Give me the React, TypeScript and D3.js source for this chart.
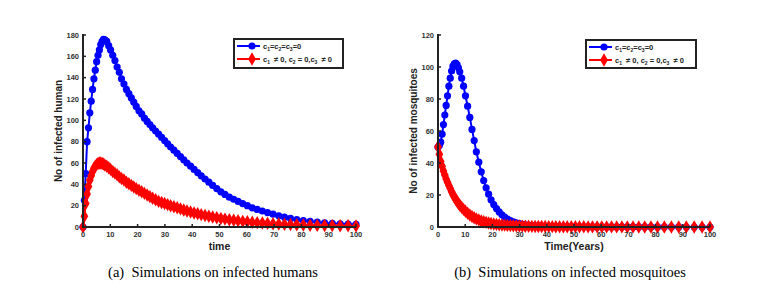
import * as d3 from "d3";

// shared time grid (solver steps)
const TIME = [0, 0.5, 1, 1.5, 2, 2.5, 3, 3.5, 4, 4.5, 5, 5.5, 6, 6.5, 7, 7.5, 8, 8.7, 9.4, 10.1,
  10.9, 11.7, 12.5, 13.3, 14.1, 15, 15.9, 16.8, 17.7, 18.6,
  19.5, 20.5, 21.5, 22.5, 23.5, 24.5, 25.5, 26.6, 27.7, 28.8,
  29.9, 31, 32.1, 33.3, 34.5, 35.7, 36.9, 38.1, 39.4, 40.7,
  42, 43.3, 44.7, 46.1, 47.5, 49, 50.5, 52, 53.6, 55.2,
  56.8, 58.5, 60.2, 62, 63.8, 65.7, 67.6, 69.6, 71.7, 73.8,
  76, 78.3, 80.7, 83.2, 85.8, 88.5, 91.3, 94.2, 97.1, 100];

const humanBase = [0, 25, 50, 80, 93, 107, 118, 129, 139, 147, 155, 161, 166, 171, 174, 176, 175.5, 174, 170, 166,
  161, 156, 150, 145, 139, 134, 129, 125, 121, 117,
  113, 109, 106, 102, 99, 96, 93, 90, 87, 84,
  81, 78, 75, 72, 69, 66, 63, 60, 57, 54,
  51, 48, 45, 42, 39, 36, 33, 30.5, 28, 26,
  24, 22, 20, 18, 16.5, 15, 13.5, 12, 10.5, 9.2,
  8, 7, 6, 5.2, 4.5, 3.9, 3.4, 3, 2.7, 2.4];

const humanControl = [0, 10, 22, 31, 38, 44, 48, 52, 55, 57, 58.5, 59.5, 60, 60, 59.5, 59, 58, 57, 55.5, 54,
  52, 50.5, 49, 47, 45.5, 44, 42, 40.5, 39, 37.5,
  36, 34.5, 33, 31.5, 30, 28.5, 27, 25.5, 24, 23,
  22, 21, 20, 19, 18, 17, 16, 15, 14, 13.2,
  12.4, 11.6, 10.8, 10, 9.3, 8.6, 8, 7.4, 6.8, 6.3,
  5.8, 5.3, 4.9, 4.5, 4.1, 3.7, 3.4, 3.1, 2.8, 2.5,
  2.3, 2.1, 1.9, 1.7, 1.5, 1.4, 1.3, 1.2, 1.1, 1];

const mosqBase = [50, 51, 53, 58, 64, 70, 76, 82, 88, 93, 97.5, 100.5, 102, 102.5, 101.5, 99.5, 97, 93, 88, 82,
  75.5, 68.5, 61, 54, 47, 40.5, 34.5, 29, 24.5, 20.5,
  17, 14, 11.5, 9.4, 7.6, 6.2, 5, 4, 3.2, 2.6,
  2.1, 1.7, 1.4, 1.1, 0.9, 0.7, 0.55, 0.45, 0.35, 0.3,
  0.25, 0.2, 0.17, 0.15, 0.13, 0.11, 0.1, 0.09, 0.08, 0.07,
  0.06, 0.06, 0.05, 0.05, 0.04, 0.04, 0.04, 0.03, 0.03, 0.03,
  0.03, 0.02, 0.02, 0.02, 0.02, 0.02, 0.01, 0.01, 0.01, 0.01];

const mosqControl = [50, 45.5, 41, 38, 35, 32.5, 30, 28, 26, 24, 22, 20.3, 18.7, 17.3, 16, 14.8, 13.6, 12.3, 11, 9.8,
  8.6, 7.5, 6.6, 5.8, 5.1, 4.4, 3.8, 3.3, 2.9, 2.5,
  2.2, 1.9, 1.65, 1.45, 1.3, 1.15, 1, 0.9, 0.8, 0.7,
  0.6, 0.55, 0.5, 0.45, 0.4, 0.35, 0.32, 0.3, 0.27, 0.25,
  0.23, 0.21, 0.19, 0.17, 0.15, 0.14, 0.13, 0.12, 0.11, 0.1,
  0.09, 0.08, 0.08, 0.07, 0.07, 0.06, 0.06, 0.05, 0.05, 0.05,
  0.04, 0.04, 0.04, 0.03, 0.03, 0.03, 0.03, 0.02, 0.02, 0.02];

const xTicks = [0, 10, 20, 30, 40, 50, 60, 70, 80, 90, 100];
const humanYTicks = [0, 20, 40, 60, 80, 100, 120, 140, 160, 180];
const mosqYTicks = [0, 20, 40, 60, 80, 100, 120];

const BLUE = "#0000ff";
const RED = "#ff0000";
const AXIS = "#222";
const FONT = "Liberation Sans, Arial, sans-serif";

const diamond = d3.symbol().type(d3.symbolDiamond).size(52)()!;

type PanelProps = {
  x0: number; x1: number; yTop: number; yBottom: number;
  yMax: number; yTicks: number[];
  base: number[]; control: number[];
  xTitle: string; yTitle: string;
  legend: { x: number; y: number; w: number; h: number };
  caption: string; captionX: number;
};

function Legend({ x, y, w, h }: PanelProps["legend"]) {
  const r1 = y + 7, r2 = y + 20;
  const lx = x + 3;
  return (
    <g>
      <rect x={x} y={y} width={w} height={h} fill="#fff" stroke={AXIS} strokeWidth={2} />
      <line x1={lx} x2={lx + 23} y1={r1} y2={r1} stroke={BLUE} strokeWidth={2} />
      <circle cx={lx + 15} cy={r1} r={3.6} fill={BLUE} />
      <line x1={lx} x2={lx + 23} y1={r2} y2={r2} stroke={RED} strokeWidth={2} />
      <path d={diamond} transform={`translate(${lx + 15},${r2})`} fill={RED} />
      <text x={lx + 26} y={r1 + 2.5} fontSize={7.5} fontWeight="bold" fill={AXIS} fontFamily={FONT}>
        c<tspan fontSize={5} dy={2}>1</tspan><tspan dy={-2}>=c</tspan><tspan fontSize={5} dy={2}>2</tspan>
        <tspan dy={-2}>=c</tspan><tspan fontSize={5} dy={2}>3</tspan><tspan dy={-2}>=0</tspan>
      </text>
      <text x={lx + 26} y={r2 + 2.5} fontSize={7.5} fontWeight="bold" fill={AXIS} fontFamily={FONT} xmlSpace="preserve">
        c<tspan fontSize={5} dy={2}>1</tspan><tspan dy={-2}>  ≠ 0, c</tspan><tspan fontSize={5} dy={2}>2</tspan>
        <tspan dy={-2}> = 0,c</tspan><tspan fontSize={5} dy={2}>3</tspan><tspan dy={-2}>  ≠ 0</tspan>
      </text>
    </g>
  );
}

function Panel(p: PanelProps) {
  const x = d3.scaleLinear().domain([0, 100]).range([p.x0, p.x1]);
  const y = d3.scaleLinear().domain([0, p.yMax]).range([p.yBottom, p.yTop]);
  const line = d3.line<number>().x((_, i) => x(TIME[i])).y((d) => y(d));
  const midY = (p.yTop + p.yBottom) / 2;
  return (
    <g>
      {/* series */}
      <path d={line(p.base)!} fill="none" stroke={BLUE} strokeWidth={2} />
      {p.base.map((v, i) => (
        <circle key={"b" + i} cx={x(TIME[i])} cy={y(v)} r={3.6} fill={BLUE} />
      ))}
      <path d={line(p.control)!} fill="none" stroke={RED} strokeWidth={2} />
      {p.control.map((v, i) => (
        <path key={"r" + i} d={diamond} transform={`translate(${x(TIME[i])},${y(v)})`} fill={RED} />
      ))}

      {/* axes */}
      <line x1={p.x0} x2={p.x0} y1={p.yTop - 1} y2={p.yBottom + 1} stroke={AXIS} strokeWidth={2} />
      <line x1={p.x0 - 1} x2={p.x1} y1={p.yBottom} y2={p.yBottom} stroke={AXIS} strokeWidth={2} />
      {xTicks.map((t) => (
        <g key={"xt" + t}>
          <line x1={x(t)} x2={x(t)} y1={p.yBottom} y2={p.yBottom - 3} stroke={AXIS} strokeWidth={1.5} />
          <text x={x(t)} y={p.yBottom + 10} textAnchor="middle" fontSize={7.5} fontWeight="bold" fill="#333" fontFamily={FONT}>{t}</text>
        </g>
      ))}
      {p.yTicks.map((t) => (
        <g key={"yt" + t}>
          <line x1={p.x0} x2={p.x0 + 3} y1={y(t)} y2={y(t)} stroke={AXIS} strokeWidth={1.5} />
          <text x={p.x0 - 4} y={y(t) + 2.5} textAnchor="end" fontSize={7.5} fontWeight="bold" fill="#333" fontFamily={FONT}>{t}</text>
        </g>
      ))}
      <text x={(p.x0 + p.x1) / 2} y={p.yBottom + 23} textAnchor="middle" fontSize={10.5} fontWeight="bold" fill={AXIS} fontFamily={FONT}>{p.xTitle}</text>
      <text transform={`translate(${p.x0 - 21},${midY}) rotate(-90)`} textAnchor="middle" fontSize={10} fontWeight="bold" fill={AXIS} fontFamily={FONT}>{p.yTitle}</text>

      <Legend {...p.legend} />

      <text x={p.captionX} y={277} textAnchor="middle" fontSize={14.5} fill="#000" fontFamily="Liberation Serif, Times New Roman, serif" xmlSpace="preserve">{p.caption}</text>
    </g>
  );
}

export default function App() {
  return (
    <svg width={775} height={288} style={{ position: "absolute", left: 0, top: 0, background: "#fff" }}>
      <Panel x0={83} x1={356} yTop={35} yBottom={227} yMax={180} yTicks={humanYTicks}
        base={humanBase} control={humanControl} xTitle="time" yTitle="No of infected human"
        legend={{ x: 234, y: 39, w: 109, h: 29 }}
        caption="(a)  Simulations on infected humans" captionX={213} />
      <Panel x0={438} x1={710} yTop={35} yBottom={227} yMax={120} yTicks={mosqYTicks}
        base={mosqBase} control={mosqControl} xTitle="Time(Years)" yTitle="No of infected mosquitoes"
        legend={{ x: 586, y: 40, w: 110, h: 28 }}
        caption="(b)  Simulations on infected mosquitoes" captionX={570} />
    </svg>
  );
}
